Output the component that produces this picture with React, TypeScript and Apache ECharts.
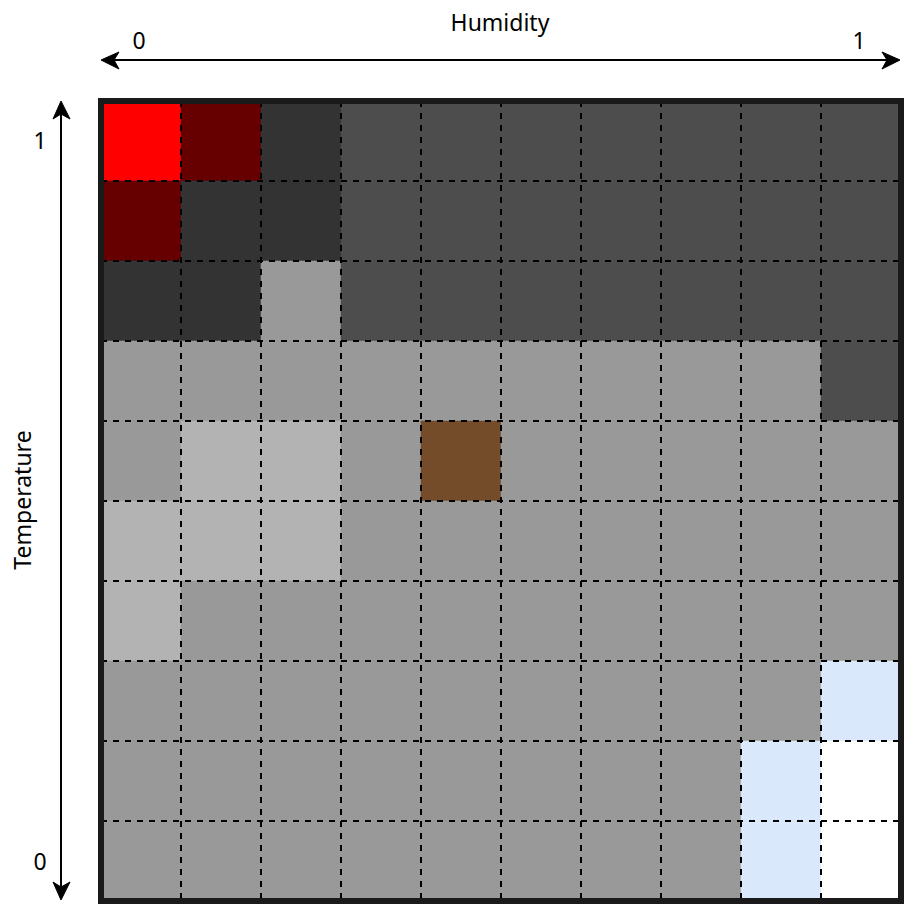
import React, { useEffect, useRef } from "react";
import * as echarts from "echarts";

// Humidity columns (left → right), temperature rows (top → bottom)
const humidityCats = ["h0", "h1", "h2", "h3", "h4", "h5", "h6", "h7", "h8", "h9"];
const temperatureCats = ["t9", "t8", "t7", "t6", "t5", "t4", "t3", "t2", "t1", "t0"];

// Colour classes
const classColors = ["#ffffff", "#dae8fc", "#b3b3b3", "#999999", "#754c2a", "#4d4d4d", "#333333", "#660000", "#ff0000"];

// Cell classes, row by row from the top (temperature 1) to the bottom (temperature 0)
const row0 = [8, 7, 6, 5, 5, 5, 5, 5, 5, 5];
const row1 = [7, 6, 6, 5, 5, 5, 5, 5, 5, 5];
const row2 = [6, 6, 3, 5, 5, 5, 5, 5, 5, 5];
const row3 = [3, 3, 3, 3, 3, 3, 3, 3, 3, 5];
const row4 = [3, 2, 2, 3, 4, 3, 3, 3, 3, 3];
const row5 = [2, 2, 2, 3, 3, 3, 3, 3, 3, 3];
const row6 = [2, 3, 3, 3, 3, 3, 3, 3, 3, 3];
const row7 = [3, 3, 3, 3, 3, 3, 3, 3, 3, 1];
const row8 = [3, 3, 3, 3, 3, 3, 3, 3, 1, 0];
const row9 = [3, 3, 3, 3, 3, 3, 3, 3, 1, 0];
const rows = [row0, row1, row2, row3, row4, row5, row6, row7, row8, row9];

const xTickLabels = ["0", "1"];
const yTickLabels = ["0", "1"];
const xTitle = "Humidity";
const yTitle = "Temperature";

const FONT = "Noto Sans";
const FS = 23;

export default function App() {
  const ref = useRef<HTMLDivElement>(null);
  useEffect(() => {
    if (!ref.current) return;
    const chart = echarts.init(ref.current, undefined, { renderer: "svg" });
    const data: number[][] = [];
    rows.forEach((r, ri) => r.forEach((v, ci) => data.push([ci, ri, v])));

    const dashed = { show: true, interval: 0, lineStyle: { color: "#000", width: 2, type: [6, 6] as any } };
    const arrowStyle = { fill: "#000", stroke: "#000", lineWidth: 1 };
    const lineStyle = { stroke: "#000", lineWidth: 2 };
    const textStyle = (t: string, x: number, y: number) => ({
      type: "text",
      x,
      y,
      style: { text: t, fill: "#000", font: `${FS}px '${FONT}'`, textAlign: "center", textVerticalAlign: "middle" },
    });

    chart.setOption({
      animation: false,
      backgroundColor: "#ffffff",
      grid: {
        left: 101,
        top: 101,
        width: 800,
        height: 800,
        show: true,
        backgroundColor: "transparent",
        borderColor: "#1a1a1a",
        borderWidth: 6,
        z: 20,
      },
      xAxis: {
        type: "category",
        data: humidityCats,
        z: 10,
        axisLine: { show: false },
        axisTick: { show: false },
        axisLabel: { show: false },
        splitLine: dashed,
      },
      yAxis: {
        type: "category",
        data: temperatureCats,
        inverse: true,
        z: 10,
        axisLine: { show: false },
        axisTick: { show: false },
        axisLabel: { show: false },
        splitLine: dashed,
      },
      visualMap: {
        show: false,
        type: "piecewise",
        dimension: 2,
        pieces: classColors.map((c, i) => ({ value: i, color: c })),
      },
      series: [
        {
          type: "heatmap",
          data,
          emphasis: { disabled: true },
          itemStyle: { borderWidth: 0 },
        },
      ],
      graphic: [
        // horizontal arrow
        { type: "line", shape: { x1: 112, y1: 60, x2: 890, y2: 60 }, style: lineStyle },
        { type: "polygon", shape: { points: [[101, 60], [119, 52], [114, 60], [119, 69]] }, style: arrowStyle },
        { type: "polygon", shape: { points: [[900, 60], [882, 52], [887, 60], [882, 69]] }, style: arrowStyle },
        // vertical arrow
        { type: "line", shape: { x1: 61, y1: 112, x2: 61, y2: 890 }, style: lineStyle },
        { type: "polygon", shape: { points: [[61, 101], [53, 119], [61, 114], [70, 119]] }, style: arrowStyle },
        { type: "polygon", shape: { points: [[61, 900], [53, 882], [61, 887], [70, 882]] }, style: arrowStyle },
        textStyle(xTitle, 500, 22),
        textStyle(xTickLabels[0], 139, 40),
        textStyle(xTickLabels[1], 859, 40),
        textStyle(yTickLabels[1], 40, 140),
        textStyle(yTickLabels[0], 40, 861),
        {
          type: "text",
          x: 22,
          y: 500,
          rotation: Math.PI / 2,
          style: { text: yTitle, fill: "#000", font: `${FS}px '${FONT}'`, textAlign: "center", textVerticalAlign: "middle" },
        },
      ],
    });
    return () => chart.dispose();
  }, []);
  return <div ref={ref} style={{ position: "absolute", left: 0, top: 0, width: 920, height: 920 }} />;
}
